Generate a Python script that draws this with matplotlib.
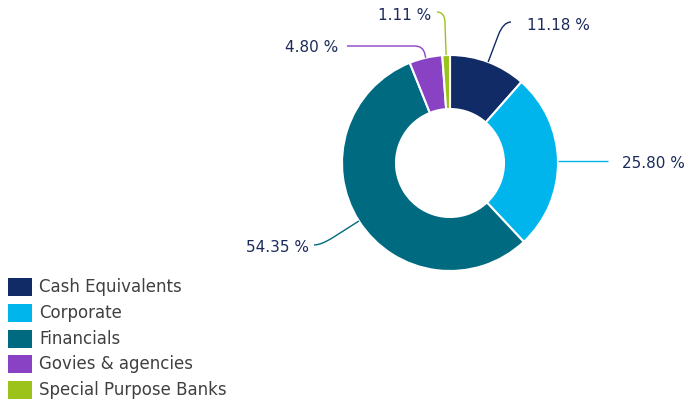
import numpy as np
import matplotlib.pyplot as plt
from matplotlib.path import Path
from matplotlib.patches import PathPatch, Rectangle

# Portfolio breakdown by sector (%)
categories = ["Cash Equivalents", "Corporate", "Financials", "Govies & agencies", "Special Purpose Banks"]
values = [11.18, 25.80, 54.35, 4.80, 1.11]
labels = ["%.2f %%" % v for v in values]
colors = ["#112b66", "#00b5ec", "#006a80", "#8a42c4", "#9bc31a"]

W, H = 690, 405
cx, cy = 450, 163      # donut centre, pixel coords (y down)
r_out, ring = 108, 54

# label anchors (pixel coords): end of connector, text x, alignment
label_y = [22, 162, 245, 46, 12]
line_end_x = [511, 608, 314, 347, 437]
corner_r = [14, 0, 14, 8, 10]
text_x = [527, 622, 309, 338, 431]
text_y = [25, 163, 247, 48, 16]
text_ha = ["left", "left", "right", "right", "right"]

label_col = "#1b2a5a"
legend_col = "#404040"


def P(px, py):
    # pixel (y down) -> data (y up)
    return px, H - py


fig = plt.figure(figsize=(W / 100, H / 100), dpi=100)
ax = fig.add_axes([0, 0, 1, 1])

ax.pie(values, colors=colors, startangle=90, counterclock=False,
       radius=r_out, center=P(cx, cy),
       wedgeprops=dict(width=ring, edgecolor="white", linewidth=1.5))
ax.set_xlim(0, W)
ax.set_ylim(0, H)
ax.set_aspect("equal")
ax.axis("off")

# connectors + labels
fracs = np.array(values) / np.sum(values)
mids = np.cumsum(fracs) - fracs / 2
for i in range(len(values)):
    ang = np.deg2rad(360 * mids[i])
    dx, dy = np.sin(ang), -np.cos(ang)          # pixel direction (y down)
    sx, sy = cx + r_out * dx, cy + r_out * dy
    ex, ey = line_end_x[i], label_y[i]
    if abs(dy) < 0.1:
        verts = [P(sx, sy), P(ex, sy)]
        codes = [Path.MOVETO, Path.LINETO]
    else:
        t = (ey - sy) / dy
        bx, by = sx + t * dx, ey
        rr = corner_r[i]
        d1 = np.hypot(sx - bx, sy - by)
        d2 = np.hypot(ex - bx, ey - by)
        p1 = (bx + (sx - bx) * min(rr, d1) / d1, by + (sy - by) * min(rr, d1) / d1)
        p2 = (bx + (ex - bx) * min(rr, d2) / d2, by)
        verts = [P(sx, sy), P(*p1), P(bx, by), P(*p2), P(ex, ey)]
        codes = [Path.MOVETO, Path.LINETO, Path.CURVE3, Path.CURVE3, Path.LINETO]
    ax.add_patch(PathPatch(Path(verts, codes), fill=False, edgecolor=colors[i], lw=1.0))
    ax.text(*P(text_x[i], text_y[i]), labels[i], ha=text_ha[i], va="center",
            fontsize=11, color=label_col)

# legend
for i, name in enumerate(categories):
    yc = 287 + i * 25.8
    ax.add_patch(Rectangle(P(8, yc + 9), 24, 18, facecolor=colors[i], edgecolor="none"))
    ax.text(*P(39, yc), name, ha="left", va="center", fontsize=12, color=legend_col)

fig.savefig("out.png", dpi=100)
